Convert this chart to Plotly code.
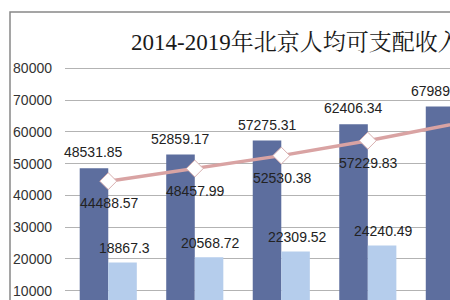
import plotly.graph_objects as go

years = ["2014", "2015", "2016", "2017", "2018", "2019"]
urban = [48531.85, 52859.17, 57275.31, 62406.34, 67989.89, 73848.51]
rural = [18867.3, 20568.72, 22309.52, 24240.49, 26490.3, 28928.4]
overall = [44488.57, 48457.99, 52530.38, 57229.83, 62361.22, 67755.91]
title_text = "2014-2019年北京人均可支配收入情况"
y_ticks = [10000, 20000, 30000, 40000, 50000, 60000, 70000, 80000]

DARK = "#5d6e9e"
LIGHT = "#b5cdec"
LINE = "#d9a3a3"

fig = go.Figure()
fig.add_trace(go.Bar(x=years, y=urban, marker=dict(color=DARK, line=dict(width=0)), name="城镇"))
fig.add_trace(go.Bar(x=years, y=rural, marker=dict(color=LIGHT, line=dict(width=0)), name="农村"))
fig.add_trace(go.Scatter(x=years, y=overall, mode="lines+markers",
                         line=dict(color=LINE, width=3.5),
                         marker=dict(symbol="diamond", size=13, color="white",
                                     line=dict(color="#d8b0b0", width=1)),
                         name="全市", cliponaxis=False))

annots = []
lab_font = dict(family="Liberation Sans, Arial, sans-serif", size=14, color="#222")
for i, y in enumerate(years):
    annots.append(dict(x=i - 0.165, y=urban[i], xref="x", yref="y", text=f"{urban[i]:.2f}".rstrip("0").rstrip("."),
                       showarrow=False, yanchor="middle", yshift=16, font=lab_font))
    annots.append(dict(x=i + 0.185, y=rural[i], xref="x", yref="y", text=f"{rural[i]:.2f}".rstrip("0").rstrip("."),
                       showarrow=False, yanchor="middle", yshift=14.5, font=lab_font))
    annots.append(dict(x=i + 0.01, y=overall[i], xref="x", yref="y", text=f"{overall[i]:.2f}".rstrip("0").rstrip("."),
                       showarrow=False, yanchor="middle", yshift=-22, font=lab_font))

annots.append(dict(x=(129 - 65) / 385, y=1 + (60 - 42.5) / 240, xref="paper", yref="paper",
                   text=title_text, showarrow=False, xanchor="left", yanchor="middle",
                   font=dict(family="Liberation Serif, Noto Serif CJK SC, Noto Sans CJK SC, serif",
                             size=23, color="#1a1a1a")))

fig.update_layout(
    width=450, height=300,
    margin=dict(l=65, r=0, t=60, b=0, pad=0),
    paper_bgcolor="white", plot_bgcolor="rgba(0,0,0,0)",
    barmode="group", bargap=0.34, bargroupgap=0,
    showlegend=False,
    annotations=annots,
    shapes=[dict(type="rect", xref="paper", yref="paper",
                 x0=(10 - 65) / 385, x1=1.2, y0=-0.2, y1=1 + (60 - 12) / 240,
                 line=dict(color="#888", width=1.5), layer="below")],
    xaxis=dict(range=[-0.5, 3.95], showticklabels=False, showgrid=False,
               zeroline=False, showline=False, fixedrange=True),
    yaxis=dict(range=[7082, 82625], tickvals=y_ticks, ticktext=[str(v) for v in y_ticks],
               showgrid=True, gridcolor="#b3b3b3", gridwidth=1, zeroline=False, showline=False,
               ticks="", ticklabelstandoff=12,
               tickfont=dict(family="Liberation Sans, Arial, sans-serif", size=14, color="#333")),
)

fig.write_html("out.html")
